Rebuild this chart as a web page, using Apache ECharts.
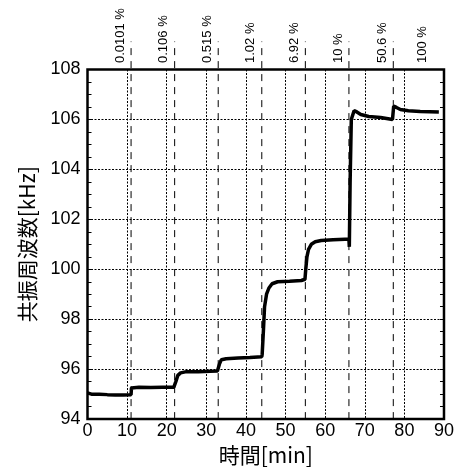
<!DOCTYPE html>
<html>
<head>
<meta charset="utf-8">
<script src="https://cdn.jsdelivr.net/npm/echarts@6/dist/echarts.min.js"></script>
<style>html,body{margin:0;padding:0;background:#fff}#c{width:457px;height:471px}</style>
</head>
<body>
<div id="c"></div>
<script>
// Resonance frequency [kHz] vs time [min]
const freqData = [
  [0, 95.05], [1, 95.0], [3, 95.0], [5, 94.98], [7, 94.97], [9, 94.97], [11.0, 94.98],
  [11.1, 95.25], [13, 95.28], [16, 95.27], [19, 95.28], [21.8, 95.28],
  [22.3, 95.5], [22.8, 95.75], [23.5, 95.85], [25, 95.9], [28, 95.9], [31, 95.92], [32.8, 95.93],
  [33.3, 96.2], [33.8, 96.38], [35, 96.42], [38, 96.45], [41, 96.47], [44.0, 96.5],
  [44.1, 96.6], [44.4, 97.5], [44.7, 98.5], [45.2, 99.0], [45.8, 99.25], [46.6, 99.42], [48, 99.5], [51, 99.52], [54, 99.55], [54.9, 99.6],
  [55.1, 100.0], [55.4, 100.5], [55.8, 100.8], [56.5, 101.0], [57.5, 101.1], [59, 101.15], [62, 101.18], [65, 101.2], [66.0, 101.2], [66.1, 100.9],
  [66.3, 103.5], [66.6, 106.0], [67.3, 106.35], [68, 106.3], [69, 106.2], [71, 106.12], [74, 106.08], [77.0, 106.0],
  [77.2, 105.95], [77.3, 106.53], [77.6, 106.55], [78, 106.48], [79, 106.4], [81, 106.35], [84, 106.32], [88.7, 106.3]
];
const markerTimes = [11, 22, 33, 44, 55, 66, 77.2, 87.3];
const markerLabels = ['0.0101 %', '0.106 %', '0.515 %', '1.02 %', '6.92 %', '10 %', '50.6 %', '100 %'];
const markerHasLine = [1, 1, 1, 1, 1, 1, 1, 0];
const xTicks = [0, 90, 10];   // min, max, interval
const yTicks = [94, 108, 2];  // min, max, interval

const latin = 'Liberation Sans, Arial, sans-serif';
const cjk = '"Noto Sans CJK JP", sans-serif';

const chart = echarts.init(document.getElementById('c'), null, {renderer: 'canvas'});
const yCommon = {
  type: 'value', min: yTicks[0], max: yTicks[1], interval: yTicks[2],
  axisLine: {show: false},
  axisTick: {show: true, inside: true, length: 4, lineStyle: {color: '#000', width: 1}},
  minorTick: {show: true, splitNumber: 4, length: 4, lineStyle: {color: '#000', width: 1}},
};
chart.setOption({
  animation: false,
  backgroundColor: '#fff',
  grid: {left: 87.5, right: 12, top: 69.5, bottom: 46, show: true, borderColor: '#000', borderWidth: 2.5, backgroundColor: 'transparent'},
  xAxis: {
    type: 'value', min: xTicks[0], max: xTicks[1], interval: xTicks[2],
    name: '時間[min]', nameLocation: 'middle', nameGap: 18,
    nameTextStyle: {fontFamily: cjk, fontSize: 21, color: '#000'},
    axisLine: {show: false}, axisTick: {show: false},
    axisLabel: {fontFamily: latin, fontSize: 18, color: '#000', margin: 3},
    splitLine: {show: true, lineStyle: {color: '#000', width: 1, type: [2, 1.5]}}
  },
  yAxis: [
    Object.assign({}, yCommon, {
      name: '共振周波数[kHz]', nameLocation: 'middle', nameGap: 50,
      nameTextStyle: {fontFamily: cjk, fontSize: 21, color: '#000'},
      axisLabel: {fontFamily: latin, fontSize: 18, color: '#000', margin: 7},
      splitLine: {show: true, lineStyle: {color: '#000', width: 1, type: [2, 1.5]}}
    }),
    Object.assign({}, yCommon, {
      position: 'right', axisLabel: {show: false}, splitLine: {show: false}
    })
  ],
  series: [
    {
      type: 'custom', coordinateSystem: 'cartesian2d', silent: true, clip: false, z: 3,
      data: markerTimes.map((t, i) => [t, i]),
      renderItem: function (params, api) {
        const t = api.value(0);
        const i = api.value(1);
        const pb = api.coord([t, yTicks[0]]);
        const pt = api.coord([t, yTicks[1]]);
        const children = [];
        if (markerHasLine[i]) {
          children.push({
            type: 'line', shape: {x1: pb[0], y1: pb[1], x2: pt[0], y2: pt[1] - 28},
            style: {stroke: '#000', lineWidth: 1, lineDash: [7, 6]}
          });
        }
        children.push({
          type: 'text', x: pt[0] - 11, y: pt[1] - 6.5, rotation: Math.PI / 2,
          style: {text: markerLabels[i], fontFamily: latin, fontSize: 13, fill: '#000', align: 'left', verticalAlign: 'middle'}
        });
        return {type: 'group', children: children};
      }
    },
    {
      type: 'line', data: freqData, showSymbol: false, symbol: 'none', z: 5,
      lineStyle: {color: '#000', width: 3.5}, silent: true
    }
  ]
});
</script>
</body>
</html>
